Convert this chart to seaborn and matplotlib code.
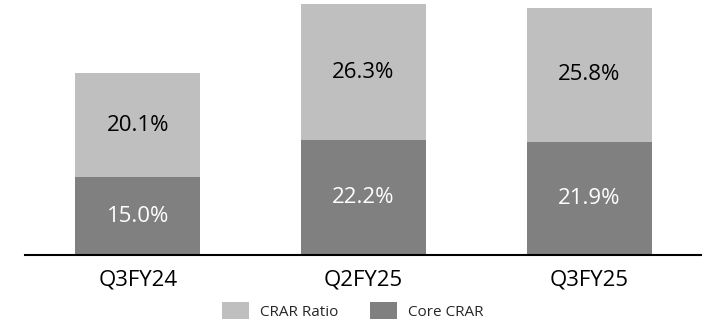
import matplotlib
matplotlib.use("Agg")
import matplotlib.pyplot as plt
import seaborn as sns
import pandas as pd
from matplotlib.patches import Patch

categories = ["Q3FY24", "Q2FY25", "Q3FY25"]
core_crar = [15.0, 22.2, 21.9]
crar_ratio = [20.1, 26.3, 25.8]
series_names = ["CRAR Ratio", "Core CRAR"]

light = "#BFBFBF"
dark = "#808080"

sns.set_theme(style="white")
plt.rcParams["font.family"] = ["Open Sans", "DejaVu Sans"]

stack_top = [c + r for c, r in zip(core_crar, crar_ratio)]
df = pd.DataFrame({"cat": categories, "core": core_crar, "ratio": crar_ratio, "top": stack_top})

fig = plt.figure(figsize=(7.02, 3.22), dpi=100)
ax = fig.add_axes([25 / 702, 67 / 322, 677 / 702, 255 / 322])

sns.barplot(data=df, x="cat", y="top", color=light, saturation=1, width=0.555,
            linewidth=0, ax=ax)
sns.barplot(data=df, x="cat", y="core", color=dark, saturation=1, width=0.555,
            linewidth=0, ax=ax)

for i, (c, r) in enumerate(zip(core_crar, crar_ratio)):
    ax.text(i, c / 2, f"{c:.1f}%", ha="center", va="center", color="white", fontsize=16)
    ax.text(i, c + r / 2, f"{r:.1f}%", ha="center", va="center", color="black", fontsize=16)

ax.set_xlim(-0.5, 2.5)
ax.set_ylim(0, 49.3)
ax.set_xlabel("")
ax.set_ylabel("")
ax.set_yticks([])
for s in ["top", "right", "left"]:
    ax.spines[s].set_visible(False)
ax.spines["bottom"].set_color("black")
ax.spines["bottom"].set_linewidth(1.5)
ax.tick_params(axis="x", length=0, pad=10.5, labelsize=16, colors="black")

handles = [Patch(facecolor=light, edgecolor="none"), Patch(facecolor=dark, edgecolor="none")]
fig.legend(handles, series_names, loc="center", bbox_to_anchor=(353 / 702, 1 - 311 / 322),
           ncol=2, frameon=False, fontsize=11, handlelength=1.76, handleheight=1.3,
           handletextpad=0.72, columnspacing=2.1, borderpad=0, borderaxespad=0)

fig.savefig("out.png", dpi=100)
